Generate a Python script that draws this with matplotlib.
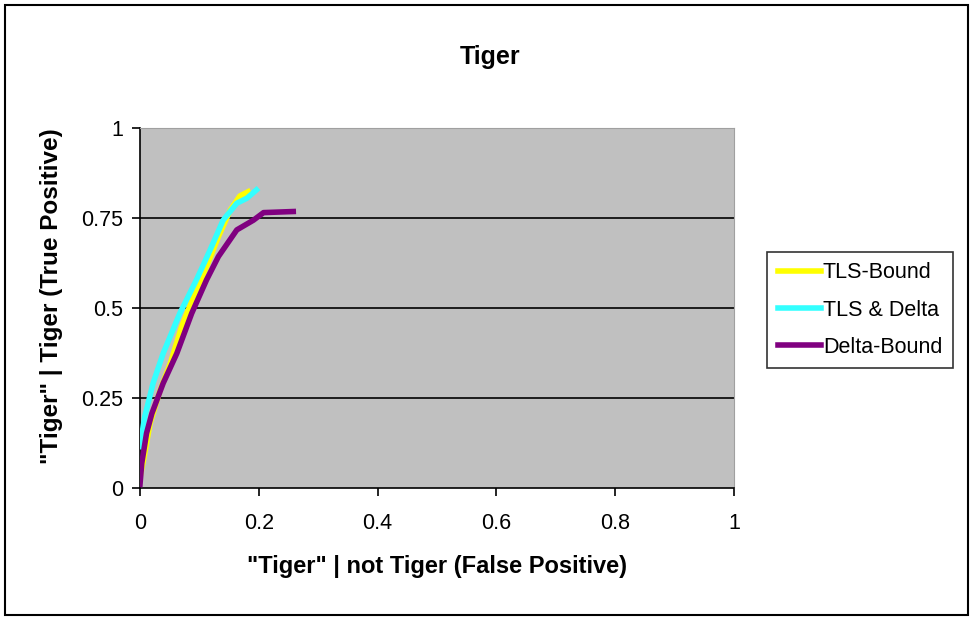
import matplotlib
matplotlib.use("Agg")
import matplotlib.pyplot as plt
from matplotlib.patches import Rectangle

plt.rcParams["font.family"] = ["Liberation Sans", "DejaVu Sans"]

title = "Tiger"
xlabel = '"Tiger" | not Tiger (False Positive)'
ylabel = '"Tiger" | Tiger (True Positive)'

tls_x = [0.0, 0.006, 0.017, 0.034, 0.051, 0.070, 0.090, 0.112, 0.132, 0.152, 0.168, 0.182]
tls_y = [0.03, 0.078, 0.18, 0.272, 0.346, 0.448, 0.531, 0.615, 0.698, 0.772, 0.811, 0.823]

both_x = [0.0, 0.008, 0.022, 0.039, 0.067, 0.095, 0.118, 0.140, 0.163, 0.180, 0.196]
both_y = [0.115, 0.198, 0.291, 0.374, 0.485, 0.578, 0.661, 0.744, 0.791, 0.805, 0.828]

delta_x = [0.0, 0.003, 0.011, 0.020, 0.039, 0.062, 0.087, 0.112, 0.132, 0.163, 0.191, 0.208, 0.258]
delta_y = [0.01, 0.069, 0.152, 0.207, 0.291, 0.374, 0.485, 0.578, 0.643, 0.717, 0.744, 0.765, 0.768]

xticks = [0, 0.2, 0.4, 0.6, 0.8, 1]
xticklabels = ["0", "0.2", "0.4", "0.6", "0.8", "1"]
yticks = [0, 0.25, 0.5, 0.75, 1]
yticklabels = ["0", "0.25", "0.5", "0.75", "1"]

W, H = 973, 623
fig = plt.figure(figsize=(W / 100, H / 100), dpi=100)
fig.patch.set_facecolor("white")
fig.patches.append(Rectangle((5 / W, 1 - 615 / H), 963 / W, 610 / H, transform=fig.transFigure,
                             fill=False, edgecolor="black", linewidth=1.5))

ax = fig.add_axes([140 / W, 1 - 488 / H, 594 / W, 360 / H])
ax.set_facecolor("#C0C0C0")
ax.set_xlim(0, 1)
ax.set_ylim(0, 1)
for y in [0.25, 0.5, 0.75]:
    ax.axhline(y, color="black", linewidth=1.2, zorder=1)

ax.plot(tls_x, tls_y, color="#FFFF00", linewidth=4, label="TLS-Bound", zorder=3)
ax.plot(both_x, both_y, color="#33FFFF", linewidth=4, label="TLS & Delta", zorder=4)
ax.plot(delta_x, delta_y, color="#800080", linewidth=4, label="Delta-Bound", zorder=5)

for s in ["top", "right"]:
    ax.spines[s].set_color("#A0A0A0")
    ax.spines[s].set_linewidth(0.8)
for s in ["left", "bottom"]:
    ax.spines[s].set_color("black")
    ax.spines[s].set_linewidth(1.2)

ax.set_xticks(xticks)
ax.set_xticklabels(xticklabels)
ax.set_yticks(yticks)
ax.set_yticklabels(yticklabels)
ax.tick_params(direction="out", length=6, width=1.2, labelsize=15.5)
ax.tick_params(axis="x", pad=12)
ax.tick_params(axis="y", pad=6)

fig.text(490 / W, 1 - 57 / H, title, ha="center", va="center", fontsize=18, fontweight="bold")
fig.text(437 / W, 1 - 566 / H, xlabel, ha="center", va="center", fontsize=17, fontweight="bold")
fig.text(52 / W, 1 - 296 / H, ylabel, ha="center", va="center", fontsize=17.5, fontweight="bold", rotation=90)

leg = fig.legend(loc="center", bbox_to_anchor=(860 / W, 1 - 310 / H), frameon=True, fancybox=False,
                 edgecolor="black", fontsize=15.5, handlelength=2.0, handletextpad=0.1,
                 borderpad=0.5, labelspacing=0.75)
leg.get_frame().set_linewidth(1.2)

fig.savefig("out.png", dpi=100)
